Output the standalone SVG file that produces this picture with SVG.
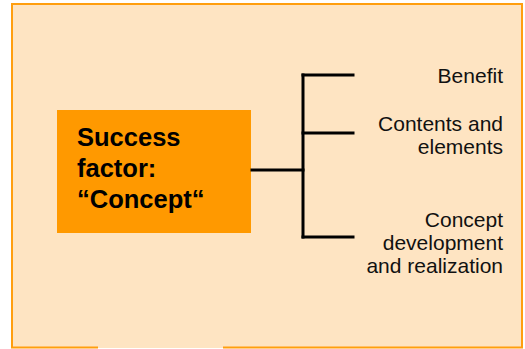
<svg xmlns="http://www.w3.org/2000/svg" width="525" height="349" viewBox="0 0 525 349">
  <style>
    .frame { fill: #FEE4C2; }
    .edge { fill: none; stroke: #FF9E0F; stroke-width: 2; }
    .hub { fill: #FF9900; }
    .title { font-family: "Liberation Sans", Arial, sans-serif; font-weight: bold; font-size: 25.5px; fill: #000; }
    .label { font-family: "Liberation Sans", Arial, sans-serif; font-size: 21px; fill: #111; text-anchor: end; }
    .wire { fill: none; stroke: #000; stroke-width: 3; stroke-linecap: square; }
  </style>

  <!-- background panel, bottom border left open in the middle -->
  <rect class="frame" x="12" y="4" width="510" height="344"/>
  <path class="edge" d="M98 347.5 H12 V4 H522 V347.5 H223"/>

  <!-- central node -->
  <g id="node-success-factor">
    <rect class="hub" x="57" y="110" width="194" height="123"/>
    <text class="title" x="77" y="146">Success</text>
    <text class="title" x="77" y="177">factor:</text>
    <text class="title" x="77" y="208">“Concept“</text>
  </g>

  <!-- bracket connecting the node to its three aspects -->
  <g id="connectors">
    <path class="wire" d="M252 170 H303"/>
    <path class="wire" d="M303 75 V237"/>
    <path class="wire" d="M303 75 H353"/>
    <path class="wire" d="M303 133 H353"/>
    <path class="wire" d="M303 237 H353"/>
  </g>

  <g id="node-benefit">
    <text class="label" x="503" y="83">Benefit</text>
  </g>

  <g id="node-contents">
    <text class="label" x="503" y="131">Contents and</text>
    <text class="label" x="503" y="154">elements</text>
  </g>

  <g id="node-development">
    <text class="label" x="503" y="227">Concept</text>
    <text class="label" x="503" y="250">development</text>
    <text class="label" x="503" y="273">and realization</text>
  </g>
</svg>
